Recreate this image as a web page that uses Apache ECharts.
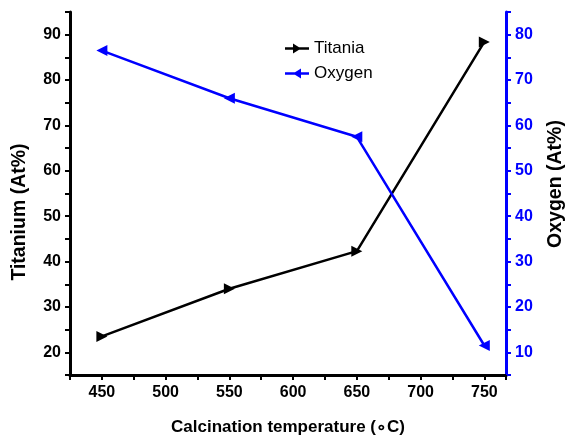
<!DOCTYPE html>
<html><head><meta charset="utf-8">
<script src="https://cdn.jsdelivr.net/npm/echarts@6/dist/echarts.min.js"></script>
<style>html,body{margin:0;padding:0;background:#fff}#c{width:568px;height:441px}</style>
</head><body><div id="c"></div>
<script>
const temperatures = [450, 550, 650, 750];
const titania = [23.5, 34.0, 42.3, 88.4];
const oxygen = [76.5, 66.0, 57.5, 11.5];
const xLabels = [450, 500, 550, 600, 650, 700, 750];
const leftLabels = [20, 30, 40, 50, 60, 70, 80, 90];
const rightLabels = [10, 20, 30, 40, 50, 60, 70, 80];

const font = 'Liberation Sans, Arial, sans-serif';
const chart = echarts.init(document.getElementById('c'));
const triR = 'path://M0,0 L10,5 L0,10 Z';
const triL = 'path://M10,0 L0,5 L10,10 Z';
const legR = 'path://M0,3.8 L24,3.8 L24,6.2 L0,6.2 Z M8,0 L16,5 L8,10 Z';
const legL = 'path://M0,3.8 L24,3.8 L24,6.2 L0,6.2 Z M16,10 L8,5 L16,0 Z';
chart.setOption({
  animation: false,
  grid: {left: 70, right: 62, top: 12, bottom: 62},
  legend: {
    orient: 'vertical', left: 280, top: 35, itemGap: 8,
    itemWidth: 24, itemHeight: 12,
    textStyle: {fontFamily: font, fontSize: 17, color: '#000'},
    data: [
      {name: 'Titania', icon: legR},
      {name: 'Oxygen', icon: legL}
    ]
  },
  graphic: [
    {type: 'text', x: 20, y: 212, rotation: Math.PI / 2,
      style: {text: 'Titanium (At%)', font: 'bold 19.5px ' + font, fill: '#000', align: 'center', verticalAlign: 'middle'}},
    {type: 'text', x: 556, y: 184, rotation: Math.PI / 2,
      style: {text: 'Oxygen (At%)', font: 'bold 19.5px ' + font, fill: '#000', align: 'center', verticalAlign: 'middle'}}
  ],
  xAxis: {
    type: 'value', min: 425, max: 767, interval: 25,
    name: 'Calcination temperature (\u2218C)', nameLocation: 'middle', nameGap: 44,
    nameTextStyle: {fontFamily: font, fontSize: 17, fontWeight: 'bold', color: '#000'},
    axisLine: {show: true, lineStyle: {color: '#000', width: 3}},
    axisTick: {show: true, length: 5, lineStyle: {color: '#000', width: 2}},
    axisLabel: {fontFamily: font, fontSize: 16, fontWeight: 'bold', color: '#000', margin: 10,
      formatter: v => xLabels.includes(v) ? String(v) : ''},
    splitLine: {show: false}
  },
  yAxis: [{
    type: 'value', min: 15, max: 95, interval: 5, position: 'left',
    axisLine: {show: true, lineStyle: {color: '#000', width: 3}},
    axisTick: {show: true, length: 5, lineStyle: {color: '#000', width: 2}},
    axisLabel: {fontFamily: font, fontSize: 16, fontWeight: 'bold', color: '#000', margin: 9,
      formatter: v => leftLabels.includes(v) ? String(v) : ''},
    splitLine: {show: false}
  }, {
    type: 'value', min: 5, max: 85, interval: 5, position: 'right',
    axisLine: {show: true, lineStyle: {color: '#0000ff', width: 3}},
    axisTick: {show: true, length: 5, lineStyle: {color: '#0000ff', width: 2}},
    axisLabel: {fontFamily: font, fontSize: 16, fontWeight: 'bold', color: '#0000ff', margin: 9,
      formatter: v => rightLabels.includes(v) ? String(v) : ''},
    splitLine: {show: false}
  }],
  series: [{
    name: 'Titania', type: 'line', yAxisIndex: 0,
    data: temperatures.map((t, i) => [t, titania[i]]),
    symbol: triR, symbolSize: 11,
    lineStyle: {color: '#000', width: 2.5}, itemStyle: {color: '#000'}
  }, {
    name: 'Oxygen', type: 'line', yAxisIndex: 1,
    data: temperatures.map((t, i) => [t, oxygen[i]]),
    symbol: triL, symbolSize: 11,
    lineStyle: {color: '#0000ff', width: 2.5}, itemStyle: {color: '#0000ff'}
  }]
});
</script></body></html>
